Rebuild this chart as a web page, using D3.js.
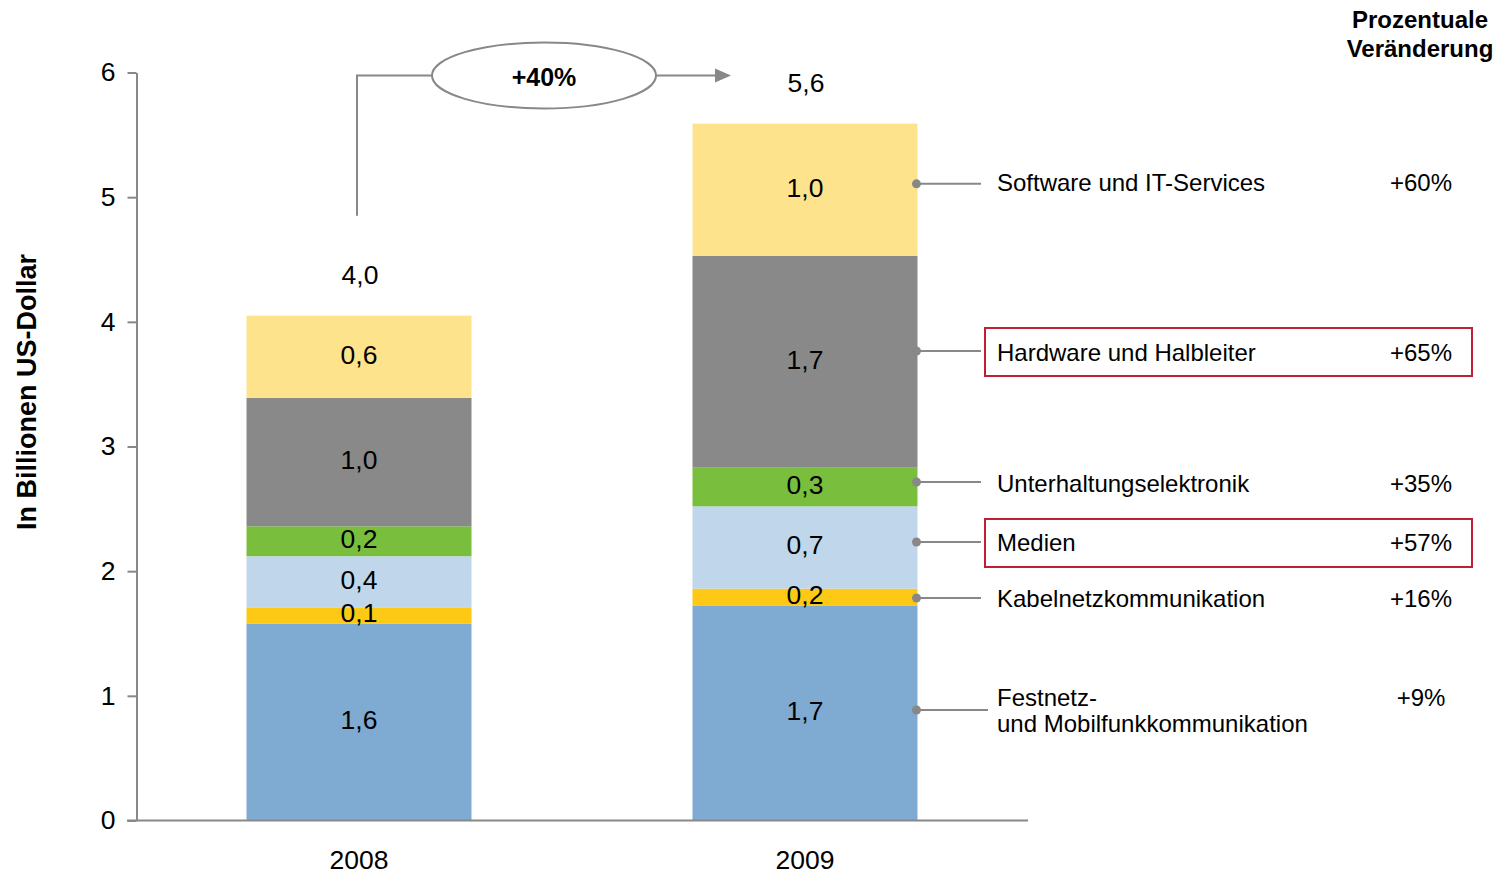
<!DOCTYPE html>
<html><head><meta charset="utf-8">
<script src="https://cdn.jsdelivr.net/npm/d3@7/dist/d3.min.js"></script>
<style>
body{margin:0;background:#fff;}
text{font-family:"Liberation Sans",Arial,sans-serif;fill:#000;}
</style></head><body>
<svg id="chart" width="1498" height="874"></svg>
<script>
// ---- data ----
const years = ["2008", "2009"];
const segments = ["Festnetz", "Kabelnetz", "Medien", "Unterhaltung", "Hardware", "Software"];
const values2008 = [1.58, 0.13, 0.41, 0.24, 1.03, 0.66];
const values2009 = [1.725, 0.135, 0.66, 0.31, 1.70, 1.06];
const labels2008 = ["1,6", "0,1", "0,4", "0,2", "1,0", "0,6"];
const labels2009 = ["1,7", "0,2", "0,7", "0,3", "1,7", "1,0"];
const totalLabels = ["4,0", "5,6"];
const legendNames = [["Festnetz-", "und Mobilfunkkommunikation"], ["Kabelnetzkommunikation"], ["Medien"], ["Unterhaltungselektronik"], ["Hardware und Halbleiter"], ["Software und IT-Services"]];
const legendPct = ["+9%", "+16%", "+57%", "+35%", "+65%", "+60%"];
const legendHighlight = [false, false, true, false, true, false];
// value (in axis units) at which each connector meets the 2009 bar
const legendAnchor = [0.886, 1.785, 2.234, 2.715, 3.766, 5.107];
const growthLabel = "+40%";
const yTicks = [0, 1, 2, 3, 4, 5, 6];
const colors = ["#7faad2", "#fdc915", "#c0d6ea", "#7abe3e", "#898989", "#fde38b"];

const svg = d3.select("#chart");
const y = d3.scaleLinear().domain([0, 6]).range([820.5, 72.5]);
const x = d3.scaleBand().domain(years).range([136, 1028]).paddingInner(0.4955).paddingOuter(0.2478);
const color = d3.scaleOrdinal().domain(segments).range(colors);

const rows = years.map((yr, i) => {
  const o = {year: yr};
  const vals = i === 0 ? values2008 : values2009;
  segments.forEach((s, j) => o[s] = vals[j]);
  return o;
});
const stacked = d3.stack().keys(segments)(rows);
const allLabels = [labels2008, labels2009];
const NUM = "26.5px";

// bars
const g = svg.append("g");
stacked.forEach((layer, j) => {
  g.selectAll(null).data(layer).enter().append("rect")
    .attr("x", d => x(d.data.year))
    .attr("width", x.bandwidth())
    .attr("y", d => y(d[1]))
    .attr("height", d => y(d[0]) - y(d[1]))
    .attr("fill", color(segments[j]));
});
// segment labels
stacked.forEach((layer, j) => {
  g.selectAll(null).data(layer).enter().append("text")
    .attr("x", d => x(d.data.year) + x.bandwidth() / 2)
    .attr("y", d => (y(d[0]) + y(d[1])) / 2 - 2)
    .attr("text-anchor", "middle").attr("dominant-baseline", "central")
    .style("font-size", NUM)
    .text((d, i) => allLabels[i][j]);
});
// totals
const topLayer = stacked[stacked.length - 1];
g.selectAll(null).data(topLayer).enter().append("text")
  .attr("x", d => x(d.data.year) + x.bandwidth() / 2 + 1)
  .attr("y", d => y(d[1]) - 41)
  .attr("text-anchor", "middle").attr("dominant-baseline", "central")
  .style("font-size", NUM)
  .text((d, i) => totalLabels[i]);

// y axis
const yAxis = svg.append("g").attr("transform", "translate(136.5,0)")
  .call(d3.axisLeft(y).tickValues(yTicks).tickSize(9).tickPadding(12).tickSizeOuter(0).tickFormat(d3.format("d")));
yAxis.selectAll("path,line").attr("stroke", "#888").attr("stroke-width", 2);
yAxis.selectAll("text").style("font-size", NUM).style("font-family", "Liberation Sans, Arial, sans-serif").attr("fill", "#000");
// x axis
svg.append("line").attr("x1", 127).attr("x2", 1028).attr("y1", y(0)).attr("y2", y(0)).attr("stroke", "#888").attr("stroke-width", 2);
const xAxis = svg.append("g").attr("transform", `translate(0,${y(0)})`)
  .call(d3.axisBottom(x).tickSize(0).tickPadding(30));
xAxis.select(".domain").remove();
xAxis.selectAll("text").style("font-size", NUM).style("font-family", "Liberation Sans, Arial, sans-serif").attr("fill", "#000");

// y title
svg.append("text").attr("transform", "translate(36,392) rotate(-90)")
  .attr("text-anchor", "middle").style("font-size", "27px").style("font-weight", "bold")
  .text("In Billionen US-Dollar");

// growth annotation
const x08 = x("2008") + x.bandwidth() / 2 - 2;
const ay = 75.5;
const ecx = 544, erx = 112, ery = 33;
svg.append("path").attr("d", `M${x08},${y(4.85)} V${ay} H${ecx - erx}`).attr("fill", "none").attr("stroke", "#888").attr("stroke-width", 2);
svg.append("ellipse").attr("cx", ecx).attr("cy", ay).attr("rx", erx).attr("ry", ery).attr("fill", "#fff").attr("stroke", "#888").attr("stroke-width", 2);
svg.append("line").attr("x1", ecx + erx).attr("x2", 717).attr("y1", ay).attr("y2", ay).attr("stroke", "#888").attr("stroke-width", 2);
svg.append("path").attr("d", `M715,${ay - 7} L731,${ay} L715,${ay + 7} Z`).attr("fill", "#888");
svg.append("text").attr("x", ecx).attr("y", ay + 1).attr("text-anchor", "middle").attr("dominant-baseline", "central")
  .style("font-size", "25px").style("font-weight", "bold").text(growthLabel);

// header
const pctX = 1421;
svg.append("text").attr("x", pctX - 1).attr("y", 28).attr("text-anchor", "middle").style("font-size", "24px").style("font-weight", "bold").text("Prozentuale");
svg.append("text").attr("x", pctX - 1).attr("y", 57).attr("text-anchor", "middle").style("font-size", "24px").style("font-weight", "bold").text("Veränderung");

// legend / connectors
const barRight = x("2009") + x.bandwidth();
legendAnchor.forEach((v, j) => {
  const cy = y(v);
  const lineEnd = j === 0 ? 988 : 981;
  svg.append("line").attr("x1", barRight).attr("x2", lineEnd).attr("y1", cy).attr("y2", cy).attr("stroke", "#888").attr("stroke-width", 2);
  svg.append("circle").attr("cx", barRight - 1).attr("cy", cy).attr("r", 4.5).attr("fill", "#888");
  const names = legendNames[j];
  const multi = names.length > 1;
  const ty = multi ? cy - 13 : (j === 5 ? cy - 1 : cy + 1);
  names.forEach((n, k) => {
    svg.append("text").attr("x", 997).attr("y", ty + k * 26).attr("dominant-baseline", "central").style("font-size", "24px").text(n);
  });
  svg.append("text").attr("x", pctX).attr("y", ty).attr("text-anchor", "middle").attr("dominant-baseline", "central").style("font-size", "24px").text(legendPct[j]);
  if (legendHighlight[j]) {
    svg.append("rect").attr("x", 985).attr("y", cy - 23).attr("width", 487).attr("height", 48)
      .attr("fill", "none").attr("stroke", "#be1e36").attr("stroke-width", 2);
  }
});
</script></body></html>
